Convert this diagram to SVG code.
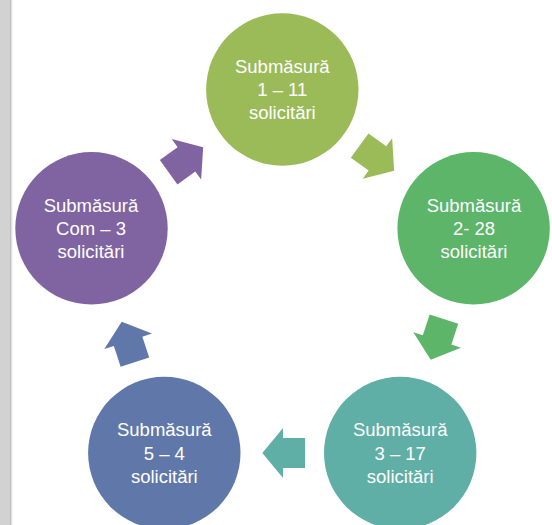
<svg xmlns="http://www.w3.org/2000/svg" width="552" height="525" viewBox="0 0 552 525">
<style>
  .lbl { font-family: "Liberation Sans", Arial, sans-serif; font-size: 18.5px; fill: #FFFFFF; text-anchor: middle; }
</style>
<defs>
  <path id="arrow" d="M -22.7 -15 L -0.7 -15 L -0.7 -25 L 20 0 L -0.7 25 L -0.7 15 L -22.7 15 Z"/>
</defs>
<rect x="0" y="0" width="552" height="525" fill="#FFFFFF"/>
<rect x="0" y="0" width="10" height="525" fill="#D2D2D2"/>
<rect x="10" y="0" width="1.5" height="525" fill="#BEBEBE"/>
<rect x="11.5" y="0" width="1" height="525" fill="#E6E6E6"/>

<g id="connectors">
  <use href="#arrow" fill="#9BBB59" transform="translate(378,158.9) rotate(36)"/>
  <use href="#arrow" fill="#5CB568" transform="translate(436.9,340.65) rotate(108)"/>
  <use href="#arrow" fill="#5FAFA6" transform="translate(282.35,453) rotate(180)"/>
  <use href="#arrow" fill="#5F78A9" transform="translate(127.9,340.65) rotate(252)"/>
  <use href="#arrow" fill="#8064A2" transform="translate(187,158.9) rotate(324)"/>
</g>

<g id="node1">
  <circle cx="282.3" cy="89.5" r="76.2" fill="#9BBB59"/>
  <text class="lbl" x="282.3" y="72.7">Submăsură</text>
  <text class="lbl" x="282.3" y="96">1 – 11</text>
  <text class="lbl" x="282.3" y="119.3">solicitări</text>
</g>
<g id="node2">
  <circle cx="473.6" cy="228.3" r="76.2" fill="#5CB568"/>
  <text class="lbl" x="474" y="211.5">Submăsură</text>
  <text class="lbl" x="474" y="234.8">2- 28</text>
  <text class="lbl" x="474" y="258.1">solicitări</text>
</g>
<g id="node3">
  <circle cx="400.2" cy="453" r="76.2" fill="#5FAFA6"/>
  <text class="lbl" x="400.2" y="436.2">Submăsură</text>
  <text class="lbl" x="400.2" y="459.5">3 – 17</text>
  <text class="lbl" x="400.2" y="482.8">solicitări</text>
</g>
<g id="node4">
  <circle cx="164.3" cy="453" r="76.2" fill="#5F78A9"/>
  <text class="lbl" x="164.3" y="436.2">Submăsură</text>
  <text class="lbl" x="164.3" y="459.5">5 – 4</text>
  <text class="lbl" x="164.3" y="482.8">solicitări</text>
</g>
<g id="node5">
  <circle cx="91.5" cy="228.3" r="76.2" fill="#8064A2"/>
  <text class="lbl" x="91" y="211.5">Submăsură</text>
  <text class="lbl" x="91" y="234.8">Com – 3</text>
  <text class="lbl" x="91" y="258.1">solicitări</text>
</g>
</svg>
